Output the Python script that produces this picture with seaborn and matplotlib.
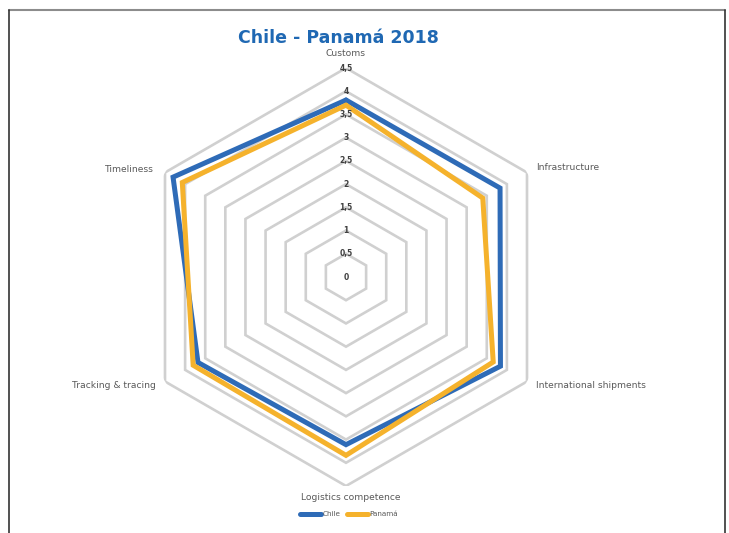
import numpy as np
import pandas as pd
import matplotlib
matplotlib.use("Agg")
import matplotlib.pyplot as plt
from matplotlib.lines import Line2D
import seaborn as sns

# Axis categories (clockwise from the top) and scores per country
categories = ["Customs", "Infrastructure", "International shipments",
              "Logistics competence", "Tracking & tracing", "Timeliness"]
chile = [3.81, 3.83, 3.84, 3.61, 3.68, 4.30]
panama = [3.70, 3.40, 3.66, 3.84, 3.80, 4.07]
series_names = ["Chile", "Panamá"]
ring_values = [0.5, 1.0, 1.5, 2.0, 2.5, 3.0, 3.5, 4.0, 4.5]
ring_labels = ["0", "0,5", "1", "1,5", "2", "2,5", "3", "3,5", "4", "4,5"]
title = "Chile - Panamá 2018"

colors = {"Chile": "#2E6BB7", "Panamá": "#F5B22C"}
grid_color = "#D0D0D0"
text_color = "#595959"

sns.set_theme(style="white")
plt.rcParams["font.family"] = ["DejaVu Sans"]

W, H = 729, 533
fig = plt.figure(figsize=(W / 100, H / 100), dpi=100)
fig.patch.set_facecolor("white")

cx, cy, R = 346, 277, 209
ax = fig.add_axes([(cx - R) / W, (H - cy - R) / H, 2 * R / W, 2 * R / H],
                  projection="polar")
ax.set_theta_zero_location("N")
ax.set_theta_direction(-1)
ax.set_ylim(0, 4.5)
ax.grid(False)
ax.spines["polar"].set_visible(False)
ax.set_xticks([])
ax.set_yticks([])
ax.patch.set_alpha(0)

n = len(categories)
angles = np.linspace(0, 2 * np.pi, n, endpoint=False)
closed = np.append(angles, angles[0])

# Hexagonal grid rings
for rv in ring_values:
    ax.plot(closed, [rv] * (n + 1), color=grid_color, lw=1.9,
            solid_joinstyle="miter", zorder=1)

# Ring value labels along the top spoke
for i, lab in enumerate(ring_labels):
    ax.text(0, i * 0.5, lab, ha="center", va="center", fontsize=5.5,
            fontweight="bold", color="#404040", zorder=5)

# Series in long form, closed back to the first axis
rows = []
for name, vals in zip(series_names, [chile, panama]):
    vv = list(vals) + [vals[0]]
    for k, (th, v) in enumerate(zip(closed, vv)):
        rows.append({"country": name, "theta": th, "score": v, "order": k})
df = pd.DataFrame(rows)

sns.lineplot(data=df, x="theta", y="score", hue="country",
             hue_order=series_names, palette=colors, sort=False,
             estimator=None, lw=3.6, ax=ax, legend=False, zorder=3)
for ln in ax.lines[-2:]:
    ln.set_solid_joinstyle("miter")
ax.set_xlabel("")
ax.set_ylabel("")
ax.set_ylim(0, 4.5)

# Category labels around the outer ring
label_pos = {
    "Customs": (346, 53, "center"),
    "Infrastructure": (536, 167, "left"),
    "International shipments": (536, 386, "left"),
    "Logistics competence": (351, 497, "center"),
    "Tracking & tracing": (156, 386, "right"),
    "Timeliness": (154, 169, "right"),
}
for cat in categories:
    x, y, ha = label_pos[cat]
    fig.text(x / W, 1 - y / H, cat, ha=ha, va="center", fontsize=6.6,
             color=text_color)

fig.text(338 / W, 1 - 38 / H, title, ha="center", va="center",
         fontsize=12.5, fontweight="bold", color="#1F68B3")

# Legend
handles = [Line2D([0], [0], color=colors[s], lw=3.6, solid_capstyle="round")
           for s in series_names]
fig.legend(handles, series_names, loc="center", ncol=2,
           bbox_to_anchor=(349 / W, 1 - 514 / H), frameon=False,
           fontsize=5.2, handlelength=3.0, handletextpad=0.2,
           columnspacing=0.8, labelcolor=text_color)

# Frame around the chart area
fig.add_artist(Line2D([9 / W, 725 / W], [1 - 10 / H, 1 - 10 / H],
                      color="#8C8C8C", lw=1.5))
fig.add_artist(Line2D([9 / W, 9 / W], [0, 1 - 10 / H], color="#333333", lw=1.2))
fig.add_artist(Line2D([725 / W, 725 / W], [0, 1 - 10 / H], color="#333333", lw=1.2))

fig.savefig("out.png", dpi=100, facecolor="white")
